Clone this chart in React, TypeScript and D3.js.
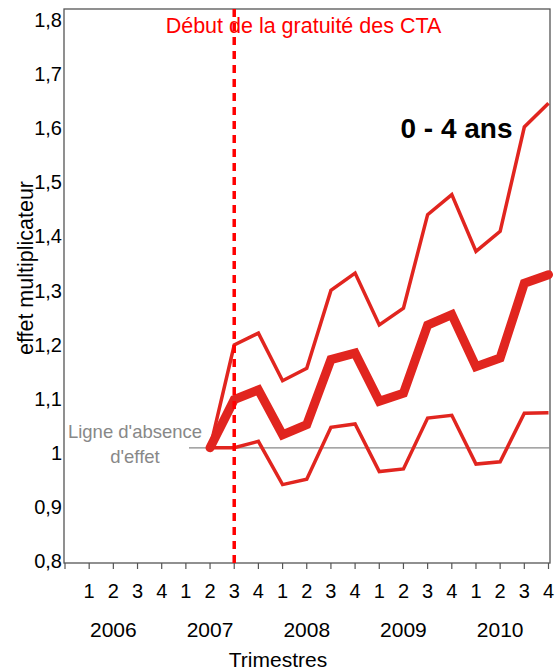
import * as d3 from 'd3'

// Trimestres 2006 T1 .. 2010 T4 (position 0 = origine de l'axe, sans étiquette)
const years = [2006, 2007, 2008, 2009, 2010]
const quarters = ['1', '2', '3', '4']
const yTicks = [0.8, 0.9, 1.0, 1.1, 1.2, 1.3, 1.4, 1.5, 1.6, 1.7, 1.8]

// séries à partir de 2007 T2
const startIndex = 6
const upper = [1.0, 1.19, 1.212, 1.124, 1.147, 1.291, 1.323, 1.227, 1.258, 1.431, 1.468, 1.363, 1.4, 1.593, 1.637]
const middle = [1.0, 1.089, 1.107, 1.024, 1.043, 1.163, 1.175, 1.086, 1.101, 1.227, 1.246, 1.15, 1.166, 1.304, 1.32]
const lower = [1.0, 1.0, 1.012, 0.932, 0.942, 1.038, 1.044, 0.956, 0.961, 1.055, 1.06, 0.97, 0.974, 1.064, 1.065]

const eventIndex = 7 // 2007 T3 : début de la gratuité

const WIDTH = 556
const HEIGHT = 671
const frame = { left: 64, right: 550, top: 9, bottom: 563 }
const RED = '#e1251f'
const FONT = '"Liberation Sans", Arial, sans-serif'

export default function App() {
  const nCat = years.length * quarters.length
  const x = d3.scaleLinear().domain([0, nCat]).range([65, 548.5])
  const y = d3.scaleLinear().domain([0.8, 1.8]).range([556, 15])

  const line = d3.line<number>()
    .x((_, i) => x(startIndex + i))
    .y(d => y(d))

  const fmt = (v: number) => (v === 1 ? '1' : d3.format('.1f')(v).replace('.', ','))

  return (
    <svg width={WIDTH} height={HEIGHT} style={{ position: 'absolute', left: 0, top: 0, fontFamily: FONT }}>
      <rect width={WIDTH} height={HEIGHT} fill="#fff" />

      {/* cadre */}
      <rect
        x={frame.left}
        y={frame.top}
        width={frame.right - frame.left}
        height={frame.bottom - frame.top}
        fill="none"
        stroke="#555"
        strokeWidth={1.3}
      />

      {/* axe Y : étiquettes */}
      {yTicks.map(t => (
        <text key={t} x={62} y={y(t) + 5} dy="0.35em" textAnchor="end" fontSize={20} fill="#000">
          {fmt(t)}
        </text>
      ))}
      <text
        transform={`translate(33,268) rotate(-90)`}
        textAnchor="middle"
        fontSize={21.5}
        fill="#000"
      >
        effet multiplicateur
      </text>

      {/* axe X : graduations */}
      {d3.range(nCat + 1).map(i => (
        <line key={i} x1={x(i)} x2={x(i)} y1={frame.bottom} y2={frame.bottom + 6} stroke="#555" strokeWidth={1.2} />
      ))}
      {years.map((yr, yi) =>
        quarters.map((q, qi) => (
          <text
            key={`${yr}-${q}`}
            x={x(yi * 4 + qi + 1)}
            y={598}
            textAnchor="middle"
            fontSize={20}
            fill="#000"
          >
            {q}
          </text>
        ))
      )}
      {years.map((yr, yi) => (
        <text key={yr} x={x(yi * 4 + 2)} y={637} textAnchor="middle" fontSize={21} fill="#000">
          {yr}
        </text>
      ))}
      <text x={278} y={667} textAnchor="middle" fontSize={21} fill="#000">
        Trimestres
      </text>

      {/* ligne d'absence d'effet */}
      <line x1={189} x2={frame.right} y1={y(1)} y2={y(1)} stroke="#888" strokeWidth={1.2} />
      <text x={135} y={438} textAnchor="middle" fontSize={18.5} fill="#888">
        Ligne d'absence
      </text>
      <text x={135} y={463} textAnchor="middle" fontSize={18.5} fill="#888">
        d'effet
      </text>

      {/* séries */}
      <path d={line(upper) ?? ''} fill="none" stroke={RED} strokeWidth={3.5} />
      <path d={line(lower) ?? ''} fill="none" stroke={RED} strokeWidth={3.5} />
      <path d={line(middle) ?? ''} fill="none" stroke={RED} strokeWidth={9} strokeLinecap="round" />

      {/* début de la gratuité */}
      <line
        x1={x(eventIndex)}
        x2={x(eventIndex)}
        y1={frame.top}
        y2={frame.bottom}
        stroke="#ff0000"
        strokeWidth={3.5}
        strokeDasharray="8,6"
      />
      <text x={303.5} y={32.5} textAnchor="middle" fontSize={21.5} fill="#ff0000">
        Début de la gratuité des CTA
      </text>

      <text x={456.5} y={138} textAnchor="middle" fontSize={28} fontWeight="bold" fill="#000">
        0 - 4 ans
      </text>
    </svg>
  )
}
